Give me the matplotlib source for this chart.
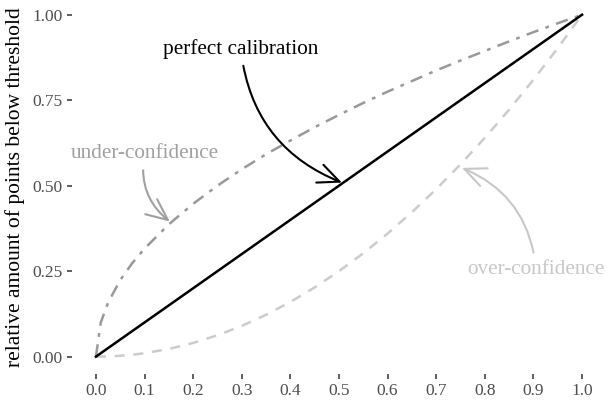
import numpy as np
import matplotlib.pyplot as plt

# values
x_vals = [0.0, 0.01, 0.025, 0.05, 0.075, 0.1, 0.15, 0.2, 0.25, 0.3, 0.35, 0.4,
          0.45, 0.5, 0.55, 0.6, 0.65, 0.7, 0.75, 0.8, 0.85, 0.9, 0.95, 1.0]
perfect = [0.0, 0.01, 0.025, 0.05, 0.075, 0.1, 0.15, 0.2, 0.25, 0.3, 0.35, 0.4,
           0.45, 0.5, 0.55, 0.6, 0.65, 0.7, 0.75, 0.8, 0.85, 0.9, 0.95, 1.0]
under_conf = [0.0, 0.100, 0.158, 0.224, 0.274, 0.316, 0.387, 0.447, 0.500,
              0.548, 0.592, 0.632, 0.671, 0.707, 0.742, 0.775, 0.806, 0.837,
              0.866, 0.894, 0.922, 0.949, 0.975, 1.0]
over_conf = [0.0, 0.0001, 0.0006, 0.0025, 0.0056, 0.01, 0.0225, 0.04, 0.0625,
             0.09, 0.1225, 0.16, 0.2025, 0.25, 0.3025, 0.36, 0.4225, 0.49,
             0.5625, 0.64, 0.7225, 0.81, 0.9025, 1.0]

x_ticks = [0.0, 0.1, 0.2, 0.3, 0.4, 0.5, 0.6, 0.7, 0.8, 0.9, 1.0]
y_ticks = [0.0, 0.25, 0.5, 0.75, 1.0]

plt.rcParams['font.family'] = ['Liberation Serif', 'DejaVu Serif']

fig = plt.figure(figsize=(6.07, 4.01), dpi=100)
ax = fig.add_axes([0.118, 0.068, 0.881, 0.932])

ax.plot(x_vals, over_conf, color='#cccccc', lw=1.8, linestyle=(0, (4, 3.5)))
ax.plot(x_vals, under_conf, color='#999999', lw=1.8,
        linestyle=(0, (5, 3, 1.5, 3)))
ax.plot(x_vals, perfect, color='black', lw=1.8)

ax.set_xlim(-0.05, 1.05)
ax.set_ylim(-0.05, 1.043)
ax.set_xticks(x_ticks)
ax.set_xticklabels([f"{v:.1f}" for v in x_ticks])
ax.set_yticks(y_ticks)
ax.set_yticklabels([f"{v:.2f}" for v in y_ticks])
ax.tick_params(length=3.5, width=1.1, color='#333333', labelcolor='#4d4d4d',
               labelsize=12.5, pad=3)
ax.tick_params(axis='x', pad=3.5)
for s in ax.spines.values():
    s.set_visible(False)
ax.set_ylabel("relative amount of points below threshold", fontsize=15.5,
              labelpad=5)

arrow_head = '->,head_length=1.0,head_width=0.45'
ax.annotate("perfect calibration", xy=(0.506, 0.509), xytext=(0.298, 0.90),
            ha='center', va='center', fontsize=15.3, color='black',
            arrowprops=dict(arrowstyle=arrow_head, color='black', lw=1.5,
                            shrinkA=3, shrinkB=0,
                            connectionstyle='arc3,rad=0.3'))
ax.annotate("under-confidence", xy=(0.152, 0.395), xytext=(0.10, 0.593),
            ha='center', va='center', fontsize=15.3, color='#a0a0a0',
            arrowprops=dict(arrowstyle=arrow_head, color='#a0a0a0', lw=1.5,
                            shrinkA=3, shrinkB=0,
                            connectionstyle='arc3,rad=0.3'))
ax.annotate("over-confidence", xy=(0.753, 0.552), xytext=(0.905, 0.256),
            ha='center', va='center', fontsize=15.3, color='#c8c8c8',
            arrowprops=dict(arrowstyle=arrow_head, color='#c8c8c8', lw=1.5,
                            shrinkA=3, shrinkB=0,
                            connectionstyle='arc3,rad=0.3'))

fig.savefig("out.png", dpi=100)
